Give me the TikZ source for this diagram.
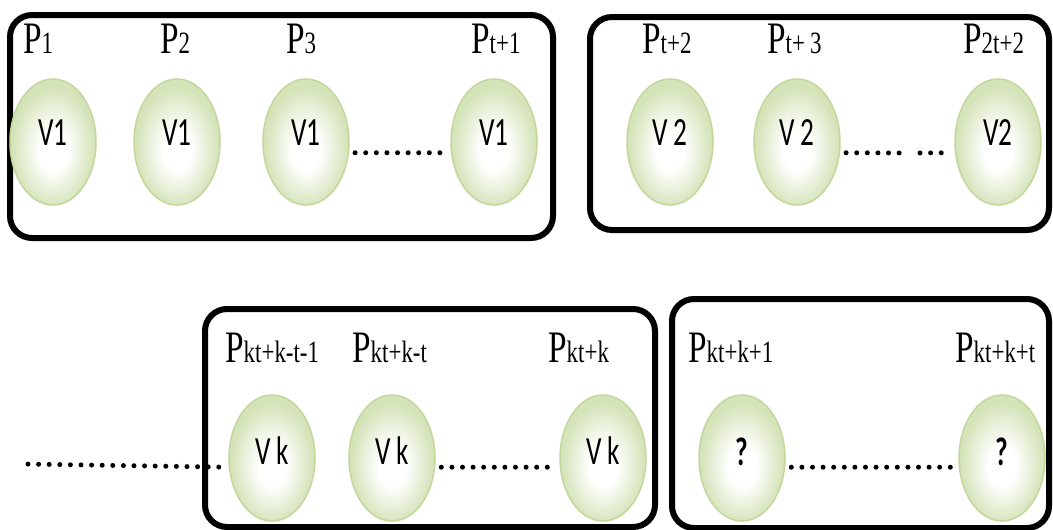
\documentclass[tikz,border=0pt]{standalone}
\usepackage{fontspec}
\usetikzlibrary{shapes.geometric}
\newfontfamily\labfont[FakeStretch=0.74]{Liberation Serif}
\newfontfamily\vfont[FakeStretch=0.68]{Carlito}
\definecolor{egreen}{HTML}{D5E3B9}
\definecolor{eborder}{HTML}{C3D69B}
\pgfdeclareradialshading{ellshade}{\pgfpoint{0bp}{-4bp}}{color(0bp)=(white); color(8bp)=(white); color(24bp)=(egreen); color(50bp)=(egreen)}
\newcommand{\plab}[1]{{\fontsize{45}{45}\selectfont P}{\fontsize{31}{31}\selectfont #1}}
\newcommand{\vtxt}[2]{\raisebox{#1}[\height][\depth]{#2}}
\tikzset{
  grp/.style={draw=black, line width=6pt, rounded corners=22pt},
  ell/.style={ellipse, draw=eborder, line width=1.5pt, shading=ellshade,
    minimum width=86pt, minimum height=126pt, inner sep=0pt,
    font=\vfont\fontsize{40}{40}\selectfont, text=black},
  plabel/.style={anchor=base west, inner sep=0pt, font=\labfont},
  dotline/.style={line width=5pt, line cap=round, dash pattern=on 0pt off 10.6pt,
    shorten <=6pt, shorten >=6pt}
}
\begin{document}
\begin{tikzpicture}[x=1pt, y=-1pt]
\useasboundingbox (0,0) rectangle (1053,530);
% group boxes
\draw[grp] (10,15) rectangle (553,238);
\draw[grp] (590,17) rectangle (1049,230);
\draw[grp] (205,309) rectangle (655,527);
\draw[grp] (672,299) rectangle (1049,528);
% row 1 ellipses
\node[ell] (a1) at (53,142) {\vtxt{9pt}{V1}};
\node[ell] (a2) at (177,142) {\vtxt{9pt}{V1}};
\node[ell] (a3) at (306,142) {\vtxt{9pt}{V1}};
\node[ell] (a4) at (494,142) {\vtxt{9pt}{V1}};
\node[ell] (b1) at (670,142) {\vtxt{9pt}{V 2}};
\node[ell] (b2) at (797,142) {\vtxt{9pt}{V 2}};
\node[ell] (b3) at (998,142) {\vtxt{9pt}{V2}};
% row 2 ellipses
\node[ell] (c1) at (272,458) {\vtxt{7pt}{V k}};
\node[ell] (c2) at (392,458) {\vtxt{7pt}{V k}};
\node[ell] (c3) at (603,458) {\vtxt{7pt}{V k}};
\node[ell] (d1) at (742,458) {\vtxt{6pt}{\bfseries ?}};
\node[ell] (d2) at (1002,458) {\vtxt{6pt}{\bfseries ?}};
% labels row 1
\node[plabel] (la1) at (23,53) {\plab{1}};
\node[plabel] (la2) at (160,53) {\plab{2}};
\node[plabel] (la3) at (286,53) {\plab{3}};
\node[plabel] (la4) at (471,53) {\plab{t+1}};
\node[plabel] (lb1) at (642,53) {\plab{t+2}};
\node[plabel] (lb2) at (767,53) {\plab{t+\,3}};
\node[plabel] (lb3) at (963,53) {\plab{2t+2}};
% labels row 2
\node[plabel] (lc1) at (225,362) {\plab{kt+k-t-1}};
\node[plabel] (lc2) at (352,362) {\plab{kt+k-t}};
\node[plabel] (lc3) at (548,362) {\plab{kt+k}};
\node[plabel] (ld1) at (688,362) {\plab{kt+k+1}};
\node[plabel] (ld2) at (955,362) {\plab{kt+k+t}};
% dotted connectors
\coordinate (gapA) at (909,153);
\coordinate (gapB) at (914,153);
\coordinate (lstart) at (22,464);
\draw[dotline] (a3.-14) -- (a4.194);
\draw[dotline] (b2.-14) -- (gapA);
\draw[dotline] (gapB) -- (b3.194);
\draw[dotline] (lstart) -- (c1.192);
\draw[dotline] (c2.-12) -- (c3.192);
\draw[dotline] (d1.-12) -- (d2.192);
\end{tikzpicture}
\end{document}
